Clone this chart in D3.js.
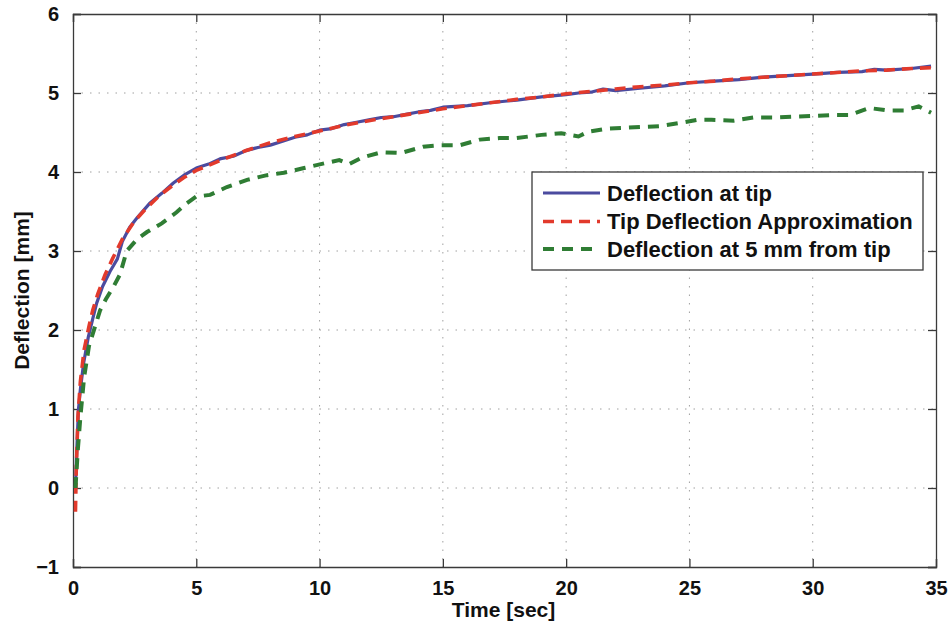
<!DOCTYPE html>
<html>
<head>
<meta charset="utf-8">
<script src="https://cdn.jsdelivr.net/npm/d3@7"></script>
<style>
  html, body { margin: 0; padding: 0; background: #fff; }
  svg { display: block; font-family: "Liberation Sans", Arial, Helvetica, sans-serif; }
</style>
</head>
<body>
<svg id="chart" width="952" height="628"></svg>
<script>
// ---------- data ----------
const tipTime = [0.1,0.15,0.22,0.3,0.43,0.62,0.8,0.96,1.2,1.5,1.65,1.8,2.0,2.3,2.6,3.1,3.6,4.07,4.5,5.0,5.5,6.0,6.5,7.0,7.5,8.0,8.5,9.0,9.5,10,10.5,11,11.5,12,12.5,13,13.5,14,14.5,15,16,17,18,19,20,20.5,21,21.5,22,23,24,25,26,27,28,29,30,31,32,32.5,33,34,34.8];
const tipValues = [0.0,0.45,0.99,1.25,1.58,1.91,2.14,2.34,2.55,2.74,2.82,2.9,3.12,3.3,3.42,3.6,3.73,3.86,3.96,4.05,4.1,4.17,4.2,4.27,4.31,4.34,4.39,4.44,4.47,4.53,4.55,4.6,4.63,4.66,4.69,4.7,4.73,4.76,4.78,4.82,4.84,4.88,4.91,4.95,4.98,5.0,5.01,5.05,5.03,5.06,5.09,5.13,5.15,5.17,5.2,5.22,5.24,5.26,5.27,5.3,5.29,5.31,5.34];

const approxTime = [0.1,0.13,0.2,0.3,0.45,0.65,0.8,1.0,1.3,1.6,2.0,2.5,3.0,3.5,4.0,4.5,5.0,6,7,8,9,10,11,12,13,14,15,16,17,18,19,20,21,22,23,24,25,26,27,28,29,30,31,32,33,34,34.8];
const approxValues = [-0.3,0.2,0.9,1.35,1.75,2.05,2.25,2.45,2.7,2.9,3.15,3.38,3.55,3.7,3.82,3.93,4.02,4.15,4.27,4.37,4.45,4.52,4.59,4.65,4.7,4.75,4.8,4.84,4.88,4.92,4.95,4.99,5.02,5.05,5.08,5.1,5.13,5.15,5.18,5.2,5.22,5.24,5.26,5.28,5.29,5.31,5.32];

const fiveTime = [0.1,0.2,0.3,0.45,0.65,0.9,1.1,1.35,1.63,1.9,2.18,2.6,3.0,3.6,4.2,4.6,5.0,5.56,6.24,7.06,7.87,8.55,9.37,10.2,10.8,11.2,11.7,12.5,13.3,14.2,14.9,15.7,16.5,17.3,18.0,19.0,19.8,20.5,20.9,21.7,22.4,23.1,23.8,24.6,25.3,25.9,26.8,27.6,28.4,29.2,30.0,30.8,31.5,32.3,33.0,33.7,34.3,34.8];
const fiveValues = [0,0.5,0.9,1.4,1.8,2.05,2.25,2.4,2.54,2.7,3.0,3.15,3.24,3.35,3.49,3.6,3.69,3.71,3.81,3.9,3.96,3.99,4.05,4.11,4.15,4.1,4.18,4.25,4.24,4.32,4.34,4.34,4.41,4.43,4.43,4.47,4.49,4.45,4.51,4.55,4.56,4.57,4.58,4.62,4.66,4.66,4.65,4.69,4.69,4.7,4.71,4.72,4.72,4.81,4.78,4.78,4.83,4.75];

const xTicks = [0,5,10,15,20,25,30,35];
const yTicks = [-1,0,1,2,3,4,5,6];
const seriesNames = ["Deflection at tip","Tip Deflection Approximation","Deflection at 5 mm from tip"];
const seriesColors = ["#4b4b9f","#e23a2c","#2f7d34"];

// ---------- layout ----------
const svg = d3.select("#chart");
const L = 73, R = 936, T = 14, B = 567;
const x = d3.scaleLinear().domain([0,35]).range([L,R]);
const y = d3.scaleLinear().domain([-1,6]).range([B,T]);

// grid
const grid = svg.append("g");
grid.selectAll(".gx").data(xTicks.slice(1,-1)).enter().append("line")
  .attr("x1", d=>x(d)).attr("x2", d=>x(d)).attr("y1", T).attr("y2", B)
  .attr("stroke", "#a0a0a0").attr("stroke-width", 1).attr("stroke-dasharray", "1.5,7");
grid.selectAll(".gy").data(yTicks.slice(1,-1)).enter().append("line")
  .attr("y1", d=>y(d)).attr("y2", d=>y(d)).attr("x1", L).attr("x2", R)
  .attr("stroke", "#a0a0a0").attr("stroke-width", 1).attr("stroke-dasharray", "1.5,7");

// axes (ticks inward)
const axB = d3.axisBottom(x).tickValues(xTicks).tickSize(-8).tickPadding(14).tickFormat(d3.format("d"));
const axT = d3.axisTop(x).tickValues(xTicks).tickSize(-8).tickFormat("");
const axL = d3.axisLeft(y).tickValues(yTicks).tickSize(-8).tickPadding(14).tickFormat(d => d < 0 ? "\u2212" + Math.abs(d) : d);
const axR = d3.axisRight(y).tickValues(yTicks).tickSize(-8).tickFormat("");

function styleAxis(g) {
  g.select(".domain").attr("stroke", "#3a3a3a").attr("stroke-width", 1.3);
  g.selectAll(".tick line").attr("stroke", "#3a3a3a").attr("stroke-width", 1.3);
  g.selectAll(".tick text").attr("fill", "#111").style("font-size", "20px").style("font-weight", "bold")
    .style("font-family", "'Liberation Sans', Arial, sans-serif");
}
svg.append("g").attr("transform", `translate(0,${B})`).call(axB).call(styleAxis);
svg.append("g").attr("transform", `translate(0,${T})`).call(axT).call(styleAxis);
svg.append("g").attr("transform", `translate(${L},0)`).call(axL).call(styleAxis);
svg.append("g").attr("transform", `translate(${R},0)`).call(axR).call(styleAxis);

// lines
const line = d3.line().x(d=>x(d[0])).y(d=>y(d[1]));
const zip = (a,b) => a.map((t,i)=>[t,b[i]]);
svg.append("path").datum(zip(tipTime, tipValues)).attr("d", line)
  .attr("fill","none").attr("stroke", seriesColors[0]).attr("stroke-width", 3.2).attr("stroke-linejoin","round");
svg.append("path").datum(zip(approxTime, approxValues)).attr("d", line)
  .attr("fill","none").attr("stroke", seriesColors[1]).attr("stroke-width", 3.6).attr("stroke-dasharray","11,7");
svg.append("path").datum(zip(fiveTime, fiveValues)).attr("d", line)
  .attr("fill","none").attr("stroke", seriesColors[2]).attr("stroke-width", 4).attr("stroke-dasharray","11,8");

// axis labels
svg.append("text").attr("x", (L+R)/2 - 1).attr("y", 617).attr("text-anchor","middle")
  .style("font-size","21px").style("font-weight","bold").attr("fill","#111").text("Time [sec]");
svg.append("text").attr("transform", `translate(29,${(T+B)/2}) rotate(-90)`).attr("text-anchor","middle")
  .style("font-size","21px").style("font-weight","bold").attr("fill","#111").text("Deflection [mm]");

// legend
const lg = svg.append("g");
lg.append("rect").attr("x", 532).attr("y", 172).attr("width", 391).attr("height", 98)
  .attr("fill", "#fff").attr("stroke", "#3a3a3a").attr("stroke-width", 1.3);
const rowsY = [193, 221.5, 249];
const dashes = [null, "11,7", "11,8"];
const widths = [3.2, 3.6, 4];
seriesNames.forEach((name, i) => {
  lg.append("line").attr("x1", 543).attr("x2", 600).attr("y1", rowsY[i]).attr("y2", rowsY[i])
    .attr("stroke", seriesColors[i]).attr("stroke-width", widths[i])
    .attr("stroke-dasharray", dashes[i]);
  lg.append("text").attr("x", 607).attr("y", rowsY[i]).attr("dy", "0.36em")
    .style("font-size","22px").style("font-weight","bold").attr("fill","#111").text(name);
});
</script>
</body>
</html>
